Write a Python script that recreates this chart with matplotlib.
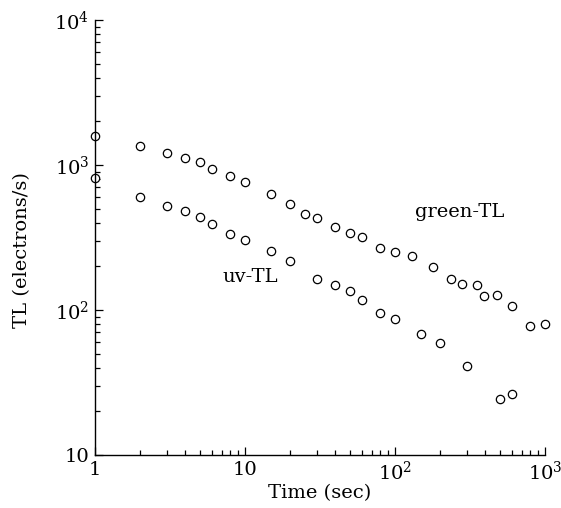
import matplotlib
matplotlib.use("Agg")
import matplotlib.pyplot as plt
from matplotlib.ticker import FixedLocator, FixedFormatter, LogLocator, NullFormatter

green_x = [1, 2, 3, 4, 5, 6, 8, 10, 15, 20, 25, 30, 40, 50, 60, 80, 100, 130, 180, 235, 280, 350, 390, 480, 600, 800, 1000]
green_y = [1585, 1352, 1203, 1112, 1054, 933, 840, 760, 630, 538, 457, 434, 372, 341, 320, 266, 253, 237, 197, 164, 151, 149, 125, 126, 107, 77, 80]

uv_x = [1, 2, 3, 4, 5, 6, 8, 10, 15, 20, 30, 40, 50, 60, 80, 100, 150, 200, 300, 500, 600]
uv_y = [818, 605, 525, 482, 437, 390, 336, 305, 257, 218, 164, 148, 135, 117, 96, 87, 68, 59.4, 41.3, 24.3, 26.2]

x_ticks = [1, 10, 100, 1000]
x_ticklabels = ["1", "10", r"$10^2$", r"$10^3$"]
y_ticks = [10, 100, 1000, 10000]
y_ticklabels = ["10", r"$10^2$", r"$10^3$", r"$10^4$"]

plt.rcParams['font.family'] = ['DejaVu Serif']
plt.rcParams['mathtext.fontset'] = 'dejavuserif'

fig = plt.figure(figsize=(5.61, 5.08), dpi=100)
ax = fig.add_axes([95/561, 53/508, 450/561, 435/508])

mk = dict(marker='o', linestyle='none', markersize=6, markerfacecolor='white',
          markeredgecolor='black', markeredgewidth=0.9, clip_on=False)
ax.plot(green_x, green_y, **mk)
ax.plot(uv_x, uv_y, **mk)

ax.set_xscale('log')
ax.set_yscale('log')
ax.set_xlim(1, 1000)
ax.set_ylim(10, 10000)

ax.xaxis.set_major_locator(FixedLocator(x_ticks))
ax.xaxis.set_major_formatter(FixedFormatter(x_ticklabels))
ax.yaxis.set_major_locator(FixedLocator(y_ticks))
ax.yaxis.set_major_formatter(FixedFormatter(y_ticklabels))
ax.xaxis.set_minor_locator(LogLocator(base=10, subs=range(2, 10)))
ax.yaxis.set_minor_locator(LogLocator(base=10, subs=range(2, 10)))
ax.xaxis.set_minor_formatter(NullFormatter())
ax.yaxis.set_minor_formatter(NullFormatter())

for s in ['top', 'right']:
    ax.spines[s].set_visible(False)
for s in ['left', 'bottom']:
    ax.spines[s].set_linewidth(1.0)

ax.tick_params(which='both', direction='in', labelsize=14, width=0.9)
ax.tick_params(which='major', length=5.5, pad=4)
ax.tick_params(which='minor', length=3.5)

ax.set_xlabel("Time (sec)", fontsize=14, labelpad=0)
ax.set_ylabel("TL (electrons/s)", fontsize=14)
ax.yaxis.set_label_coords(-0.142, 0.47)

ax.text(271, 474, "green-TL", fontsize=14, ha='center', va='center')
ax.text(10.8, 169, "uv-TL", fontsize=14, ha='center', va='center')

fig.savefig("out.png", dpi=100)
